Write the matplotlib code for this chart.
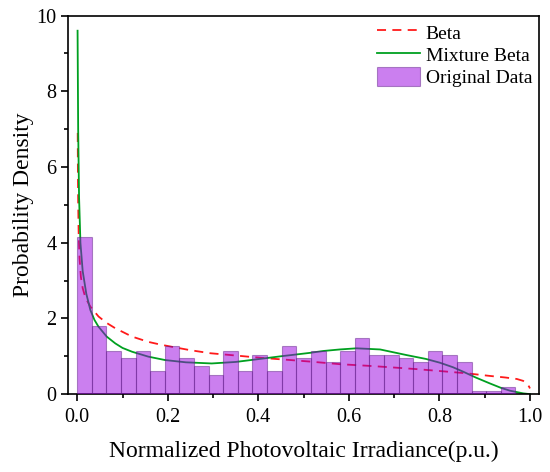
import numpy as np
import matplotlib
matplotlib.use("Agg")
import matplotlib.pyplot as plt
from matplotlib.ticker import MultipleLocator, FormatStrFormatter

plt.rcParams['font.family'] = ['Liberation Serif', 'DejaVu Serif']

# histogram: 31 bins over [0, 1], heights
bin_width = 1 / 31
hist_heights = [4.16, 1.79, 1.15, 0.96, 1.15, 0.62, 1.27, 0.96, 0.73, 0.51,
                1.15, 0.62, 1.04, 0.62, 1.27, 0.96, 1.15, 0.84, 1.15, 1.49,
                1.04, 1.04, 0.96, 0.84, 1.15, 1.04, 0.84, 0.07, 0.07, 0.19]

# Beta fit (red dashed)
beta_x = [0.001, 0.0015, 0.002, 0.003, 0.005, 0.008, 0.012, 0.018, 0.029, 0.047,
          0.065, 0.084, 0.121, 0.157, 0.183, 0.209, 0.25, 0.294, 0.35, 0.404,
          0.46, 0.514, 0.581, 0.64, 0.691, 0.75, 0.801, 0.86, 0.912, 0.945,
          0.971, 0.985, 0.993, 0.998, 1.0]
beta_y = [6.9, 5.8, 5.1, 4.3, 3.6, 3.1, 2.8, 2.55, 2.31, 2.05,
          1.88, 1.74, 1.52, 1.38, 1.31, 1.25, 1.16, 1.08, 1.02, 0.96,
          0.91, 0.86, 0.79, 0.75, 0.71, 0.66, 0.61, 0.55, 0.48, 0.44,
          0.40, 0.35, 0.28, 0.2, 0.15]

# Mixture Beta fit (green)
mix_x = [0.0007, 0.002, 0.004, 0.007, 0.012, 0.02, 0.029, 0.038, 0.047, 0.065,
         0.084, 0.1, 0.121, 0.157, 0.194, 0.24, 0.297, 0.35, 0.397, 0.45,
         0.514, 0.544, 0.58, 0.617, 0.669, 0.728, 0.77, 0.801, 0.83, 0.853,
         0.88, 0.912, 0.935, 0.956, 0.985, 1.0]
mix_y = [9.6, 7.0, 5.2, 4.0, 3.25, 2.65, 2.22, 1.96, 1.78, 1.52,
         1.34, 1.22, 1.12, 0.99, 0.90, 0.84, 0.81, 0.85, 0.92, 1.0,
         1.09, 1.14, 1.18, 1.21, 1.18, 1.03, 0.93, 0.83, 0.71, 0.59,
         0.44, 0.28, 0.17, 0.09, 0.02, 0.0]

fig = plt.figure(figsize=(5.5, 4.72), dpi=100)
ax = fig.add_axes([0.124, 0.165, 0.856, 0.802])

ax.plot(beta_x, beta_y, color='#FF1A1A', ls=(0, (5, 3.5)), lw=1.3, label='Beta', zorder=2)
ax.plot(mix_x, mix_y, color='#00A020', lw=1.3, label='Mixture Beta', zorder=2)

lefts = np.arange(len(hist_heights)) * bin_width
ax.bar(lefts, hist_heights, width=bin_width, align='edge',
       facecolor=(0.6, 0.0, 0.88, 0.5), edgecolor=(0.35, 0.1, 0.5, 0.45),
       linewidth=0.8, label='Original Data', zorder=3)

ax.set_xlim(-0.02, 1.02)
ax.set_ylim(0, 10)
ax.xaxis.set_major_locator(MultipleLocator(0.2))
ax.xaxis.set_minor_locator(MultipleLocator(0.1))
ax.yaxis.set_major_locator(MultipleLocator(2))
ax.yaxis.set_minor_locator(MultipleLocator(1))
ax.xaxis.set_major_formatter(FormatStrFormatter('%.1f'))
ax.tick_params(which='both', direction='out', labelsize=14.5, width=1.2)
ax.tick_params(which='major', length=5)
ax.tick_params(which='minor', length=3)
ax.tick_params(axis='x', pad=5)
for s in ax.spines.values():
    s.set_linewidth(1.2)

ax.set_xlabel('Normalized Photovoltaic Irradiance(p.u.)', fontsize=17, labelpad=10)
ax.set_ylabel('Probability Density', fontsize=17, labelpad=1.5)

ax.legend(loc='upper right', frameon=False, fontsize=14, handlelength=2.2,
          handleheight=1.15, handletextpad=0.3, labelspacing=0.1,
          borderaxespad=0.1, borderpad=0.25)

fig.savefig('out.png', dpi=100)
